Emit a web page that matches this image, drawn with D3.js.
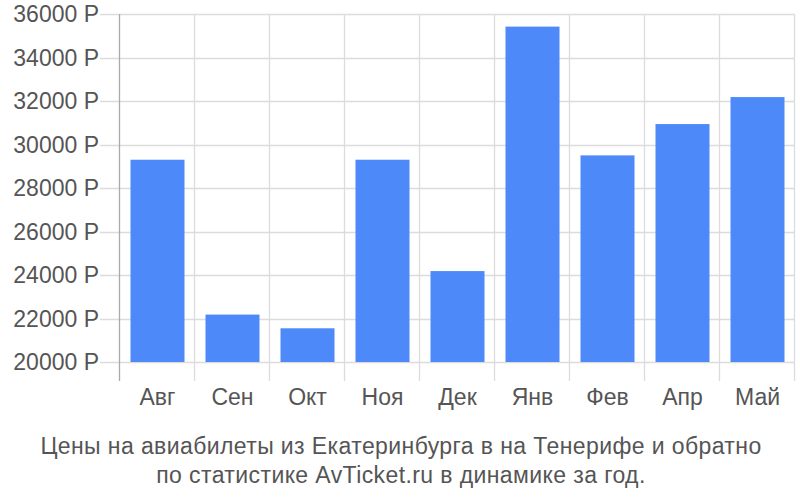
<!DOCTYPE html>
<html><head><meta charset="utf-8">
<script src="https://cdn.jsdelivr.net/npm/d3@7"></script>
<style>body{margin:0;background:#fff}svg{display:block}</style>
</head><body>
<svg id="c" width="800" height="500"></svg>
<script>
const categories = ["Авг","Сен","Окт","Ноя","Дек","Янв","Фев","Апр","Май"];
const prices = [29300, 22180, 21550, 29300, 24180, 35420, 29500, 30940, 32180];
const yTicks = [20000, 22000, 24000, 26000, 28000, 30000, 32000, 34000, 36000];
const titleLines = ["Цены на авиабилеты из Екатеринбурга в на Тенерифе и обратно", "по статистике AvTicket.ru в динамике за год."];

(function () {
const svg = d3.select("#c");
const pL = 120, pR = 795, pT = 14, pB = 362, axisBottom = 381;
const font = "'Liberation Sans', Arial, sans-serif";

const x = d3.scaleBand().domain(categories).range([pL, pR]).paddingInner(0.28).paddingOuter(0.14);
const xg = d3.scaleBand().domain(categories).range([pL, pR]);
const y = d3.scaleLinear().domain([20000, 36000]).range([pB, pT]);

// horizontal grid
svg.append("g").selectAll("line").data(yTicks).join("line")
  .attr("x1", 100).attr("x2", pR)
  .attr("y1", d => Math.round(y(d)) + 0.5).attr("y2", d => Math.round(y(d)) + 0.5)
  .attr("stroke", "#dcdcdc").attr("stroke-width", 1.3);

// vertical grid
const vx = categories.map(c => xg(c)).concat([pR]);
svg.append("g").selectAll("line").data(vx.slice(1)).join("line")
  .attr("x1", d => Math.round(d) - 0.5).attr("x2", d => Math.round(d) - 0.5)
  .attr("y1", pT).attr("y2", axisBottom)
  .attr("stroke", "#dcdcdc").attr("stroke-width", 1.3);

// bars
svg.append("g").selectAll("rect").data(prices).join("rect")
  .attr("x", (d, i) => x(categories[i]))
  .attr("width", x.bandwidth())
  .attr("y", d => y(d))
  .attr("height", d => y(20000) - y(d))
  .attr("fill", "#4d89f9");

// left axis line
svg.append("line").attr("x1", pL - 0.5).attr("x2", pL - 0.5)
  .attr("y1", pT).attr("y2", axisBottom).attr("stroke", "#aaaaaa").attr("stroke-width", 1.3);

// y labels
svg.append("g").selectAll("text").data(yTicks).join("text")
  .attr("x", 99).attr("y", d => y(d) + 8)
  .attr("text-anchor", "end")
  .attr("font-family", font).attr("font-size", 23).attr("fill", "#555")
  .text(d => d + " Р");

// x labels
svg.append("g").selectAll("text").data(categories).join("text")
  .attr("x", d => xg(d) + xg.bandwidth() / 2).attr("y", 405)
  .attr("text-anchor", "middle")
  .attr("font-family", font).attr("font-size", 23).attr("fill", "#555")
  .text(d => d);

// title
svg.append("g").selectAll("text").data(titleLines).join("text")
  .attr("x", 401).attr("y", (d, i) => 453.5 + i * 29)
  .attr("text-anchor", "middle")
  .attr("font-family", font).attr("font-size", 23).attr("letter-spacing", 0.4).attr("fill", "#555")
  .text(d => d);
})();
</script>
</body></html>
